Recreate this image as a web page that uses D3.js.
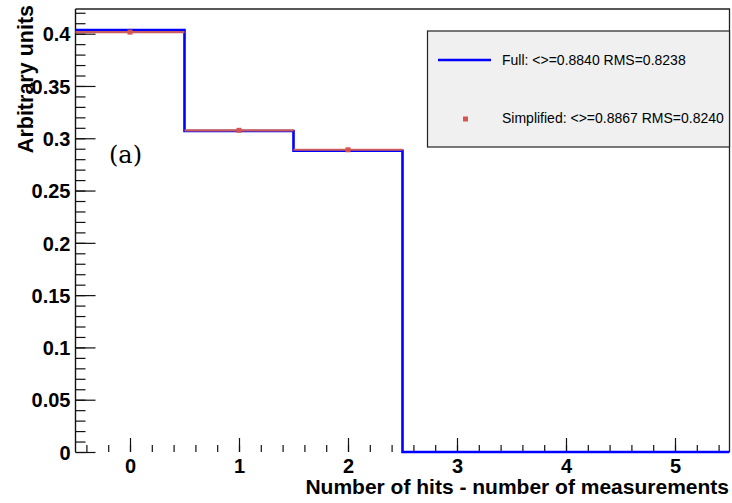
<!DOCTYPE html>
<html>
<head>
<meta charset="utf-8">
<script src="https://cdn.jsdelivr.net/npm/d3@7"></script>
<style>
  html, body { margin: 0; padding: 0; background: #fff; }
  svg { display: block; }
  text { font-family: "Liberation Sans", Arial, sans-serif; }
</style>
</head>
<body>
<script>
// Histogram of (number of hits - number of measurements), normalised.
const bins = [0, 1, 2, 3, 4, 5];
const fullValues = [0.4035, 0.3069, 0.2880, 0, 0, 0];
const simplifiedValues = [0.4015, 0.3076, 0.2890, 0, 0, 0];
const yMajorTicks = [0, 0.05, 0.1, 0.15, 0.2, 0.25, 0.3, 0.35, 0.4];
const yTickLabels = ["0", "0.05", "0.1", "0.15", "0.2", "0.25", "0.3", "0.35", "0.4"];
const xMajorTicks = [0, 1, 2, 3, 4, 5];
const legendLabels = ["Full: <>=0.8840 RMS=0.8238", "Simplified: <>=0.8867 RMS=0.8240"];

const W = 732, H = 503;
const margin = { left: 75.5, right: 2.5, top: 9, bottom: 51 };

const svg = d3.select("body").append("svg").attr("width", W).attr("height", H);

const x = d3.scaleLinear().domain([-0.5, 5.5]).range([margin.left, W - margin.right]);
const y = d3.scaleLinear().domain([0, 0.4236]).range([H - margin.bottom, margin.top]);

// Frame (top and right)
svg.append("path")
  .attr("d", `M${x(-0.5)},${y.range()[1]}H${x(5.5)}V${y(0)}`)
  .attr("fill", "none").attr("stroke", "#222").attr("stroke-width", 1.3);

// Y axis: major every 0.05, minor every 0.01
const yMinor = d3.range(0, 43).map(i => i / 100).filter(v => v <= 0.4236);
const yAxisMinor = d3.axisRight(y).tickValues(yMinor).tickSize(10).tickFormat("");
const yAxisMajor = d3.axisRight(y).tickValues(yMajorTicks).tickSize(20)
  .tickFormat((d, i) => yTickLabels[i]);

const gyMinor = svg.append("g").attr("transform", `translate(${x(-0.5)},0)`).call(yAxisMinor);
const gyMajor = svg.append("g").attr("transform", `translate(${x(-0.5)},0)`).call(yAxisMajor);
[gyMinor, gyMajor].forEach(g => {
  g.select(".domain").remove();
  g.selectAll("line").attr("stroke", "#111").attr("stroke-width", 1.2);
});
gyMajor.selectAll("text")
  .attr("x", -5).attr("text-anchor", "end").attr("dy", "0.36em")
  .attr("fill", "#000")
  .style("font-size", "20px").style("font-weight", "bold");

// X axis: major every 1, minor every 0.2
const xMinor = d3.range(-2, 28).map(i => i / 5).filter(v => v > -0.5 && v < 5.5);
const xAxisMinor = d3.axisTop(x).tickValues(xMinor).tickSize(7).tickFormat("");
const xAxisMajor = d3.axisTop(x).tickValues(xMajorTicks).tickSize(14).tickFormat(d3.format("d"));
const gxMinor = svg.append("g").attr("transform", `translate(0,${y(0)})`).call(xAxisMinor);
const gxMajor = svg.append("g").attr("transform", `translate(0,${y(0)})`).call(xAxisMajor);
[gxMinor, gxMajor].forEach(g => {
  g.select(".domain").remove();
  g.selectAll("line").attr("stroke", "#111").attr("stroke-width", 1.2);
});
gxMajor.selectAll("text")
  .attr("y", 21).attr("dy", 0)
  .attr("fill", "#000")
  .style("font-size", "20px").style("font-weight", "bold");

// Left axis line
svg.append("line")
  .attr("x1", x(-0.5)).attr("x2", x(-0.5)).attr("y1", y(0)).attr("y2", y.range()[1])
  .attr("stroke", "#111").attr("stroke-width", 1.4);

// Simplified: horizontal bin bars with a marker at each filled bin centre
const filled = bins.map((b, i) => ({ b, v: simplifiedValues[i] })).filter(d => d.v > 0);

// Full: step histogram
const stepPts = bins.map((b, i) => [b - 0.5, fullValues[i]]);
stepPts.push([bins[bins.length - 1] + 0.5, fullValues[fullValues.length - 1]]);
const stepLine = d3.line()
  .x(d => x(d[0])).y(d => y(d[1]))
  .curve(d3.curveStepAfter);
svg.append("path")
  .datum(stepPts)
  .attr("d", stepLine)
  .attr("fill", "none")
  .attr("stroke", "#0000ff")
  .attr("stroke-width", 2.6);

const simp = svg.append("g");
simp.selectAll("line")
  .data(filled)
  .join("line")
  .attr("x1", d => x(d.b - 0.5))
  .attr("x2", d => x(d.b + 0.5))
  .attr("y1", d => y(d.v))
  .attr("y2", d => y(d.v))
  .attr("stroke", "#cd5c5c")
  .attr("stroke-width", 2.2);
simp.selectAll("rect")
  .data(filled)
  .join("rect")
  .attr("x", d => x(d.b) - 2.5)
  .attr("y", d => y(d.v) - 2.5)
  .attr("width", 5).attr("height", 5)
  .attr("fill", "#d9534f");

// Axis titles
svg.append("text")
  .attr("x", W - 3).attr("y", 494)
  .attr("text-anchor", "end")
  .style("font-size", "21px").style("font-weight", "bold")
  .text("Number of hits - number of measurements");

svg.append("text")
  .attr("transform", "translate(33,5) rotate(-90)")
  .attr("text-anchor", "end")
  .style("font-size", "21.5px").style("font-weight", "bold")
  .text("Arbitrary units");

// Panel tag
svg.append("text")
  .attr("x", 109).attr("y", 163)
  .style("font-family", "'DejaVu Serif', 'Liberation Serif', serif")
  .style("font-size", "24px")
  .text("(a)");

// Legend
const lg = svg.append("g");
lg.append("rect")
  .attr("x", 427.5).attr("y", 31).attr("width", 302).attr("height", 116)
  .attr("fill", "#f0f0f0").attr("stroke", "#222").attr("stroke-width", 1.2);
lg.append("line")
  .attr("x1", 438).attr("x2", 491).attr("y1", 60).attr("y2", 60)
  .attr("stroke", "#0000ff").attr("stroke-width", 2.6);
lg.append("rect")
  .attr("x", 463).attr("y", 116.5).attr("width", 5).attr("height", 5)
  .attr("fill", "#d9534f");
lg.selectAll("text.leg")
  .data(legendLabels)
  .join("text")
  .attr("class", "leg")
  .attr("x", 502)
  .attr("y", (d, i) => i === 0 ? 65 : 123)
  .style("font-size", "14px")
  .attr("fill", "#000")
  .text(d => d);
</script>
</body>
</html>
